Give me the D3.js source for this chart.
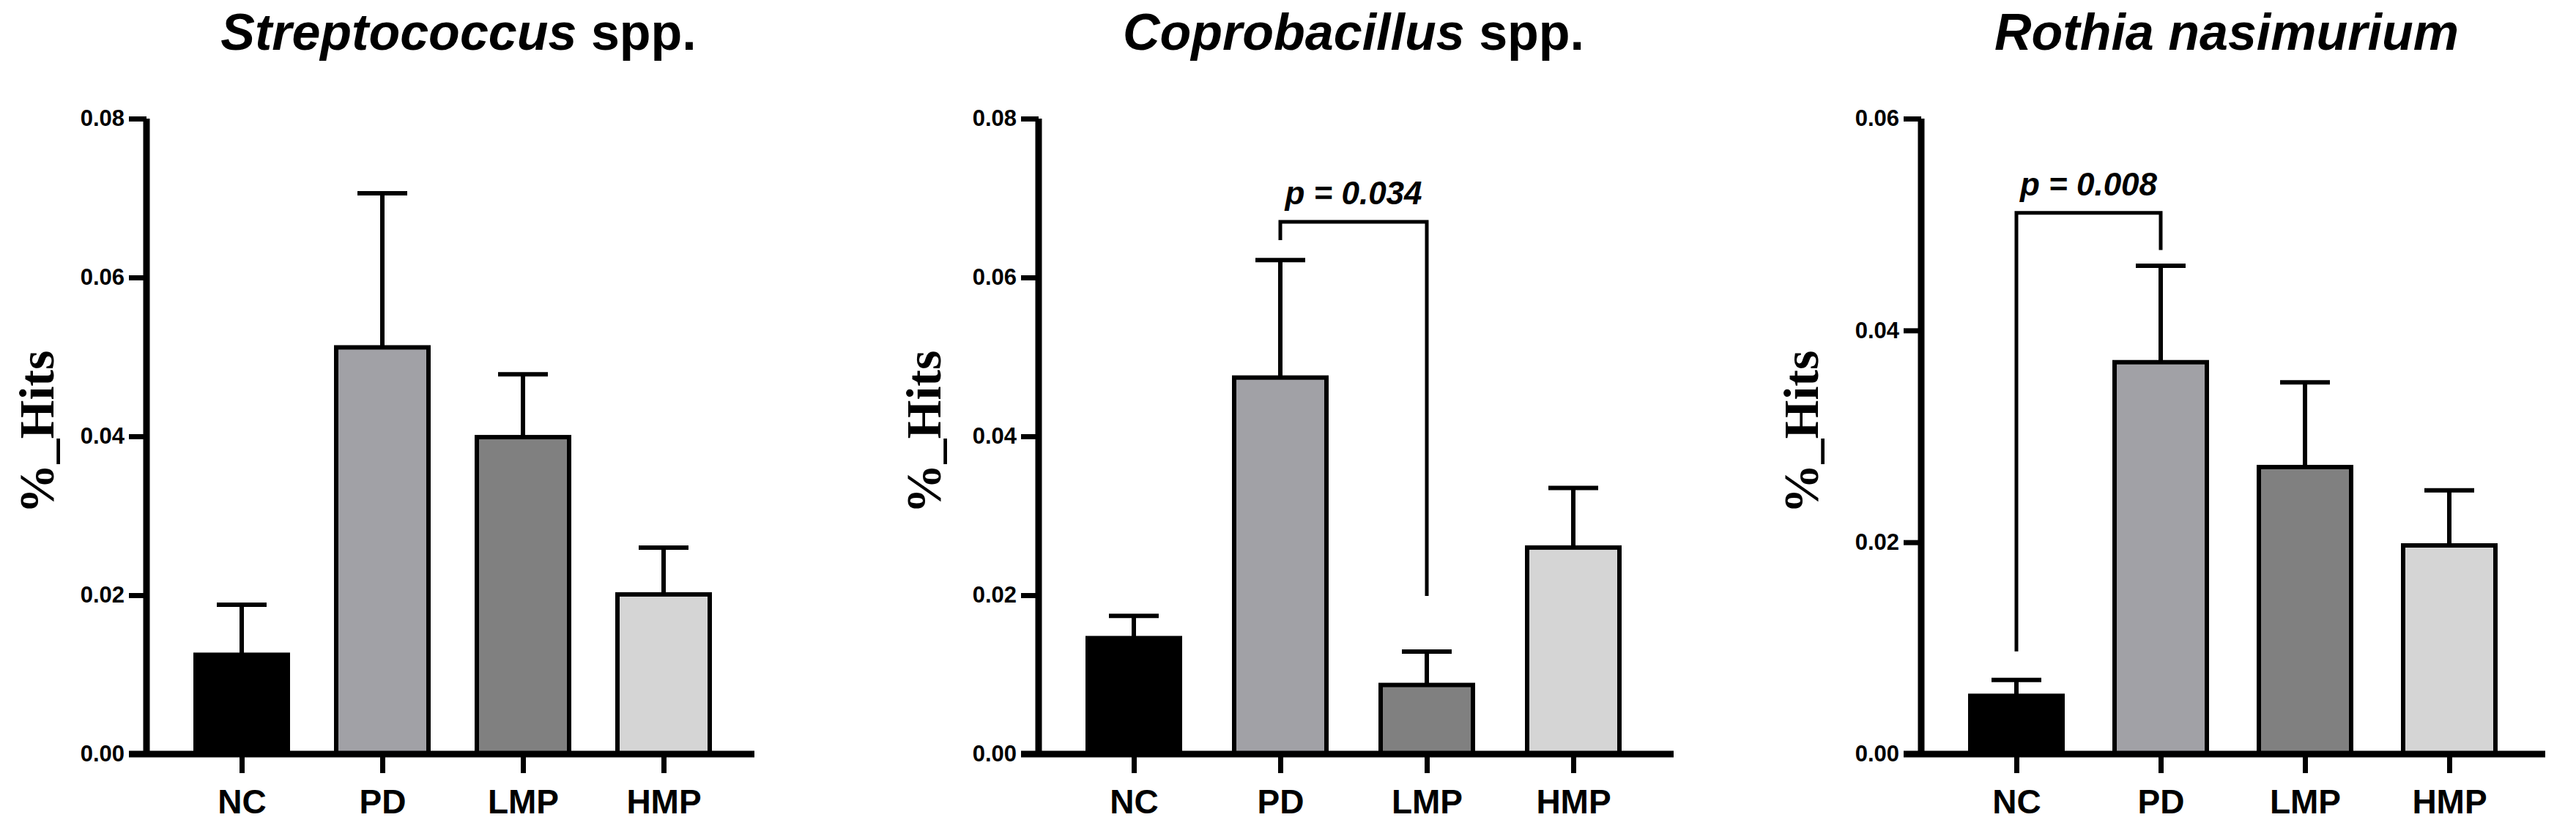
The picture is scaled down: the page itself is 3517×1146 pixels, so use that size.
<!DOCTYPE html>
<html>
<head>
<meta charset="utf-8">
<script src="https://cdnjs.cloudflare.com/ajax/libs/d3/7.8.5/d3.min.js"></script>
<style>
  body { margin: 0; background: #fff; }
  text { font-family: "Liberation Sans", Arial, sans-serif; }
</style>
</head>
<body>
<svg id="chart" width="3517" height="1146"></svg>
<script>
(function() {
	'use strict';

	// data
	var groups = ['NC', 'PD', 'LMP', 'HMP'];
	var colors = ['#000000', '#a1a1a6', '#808080', '#d5d5d5'];

	var strepMean = [0.0125, 0.0512, 0.0399, 0.0201];
	var strepErr  = [0.0188, 0.0706, 0.0478, 0.0260];

	var coproMean = [0.0146, 0.0474, 0.0087, 0.0260];
	var coproErr  = [0.0174, 0.0622, 0.0129, 0.0335];

	var rothMean = [0.0055, 0.0370, 0.0271, 0.0197];
	var rothErr  = [0.0070, 0.0461, 0.0351, 0.0249];

	var ticks008 = [0, 0.02, 0.04, 0.06, 0.08];
	var ticks006 = [0, 0.02, 0.04, 0.06];

	// layout per panel
	var panels = [
		{ title: ['Streptococcus', ' spp.'], mean: strepMean, err: strepErr, max: 0.08, ticks: ticks008,
		  axisX: 200, step: 192, end: 1030, titleX: 626, labelX: 51, sig: null },
		{ title: ['Coprobacillus', ' spp.'], mean: coproMean, err: coproErr, max: 0.08, ticks: ticks008,
		  axisX: 1418, step: 200, end: 2285, titleX: 1848, labelX: 1262,
		  sig: { a: 1, b: 2, top: 0.0670, endA: 0.0647, endB: 0.0199, text: 'p = 0.034' } },
		{ title: ['Rothia nasimurium', ''], mean: rothMean, err: rothErr, max: 0.06, ticks: ticks006,
		  axisX: 2623, step: 197, end: 3475, titleX: 3040, labelX: 2460,
		  sig: { a: 0, b: 1, top: 0.0511, endA: 0.0097, endB: 0.0476, text: 'p = 0.008' } }
	];

	var svg = d3.select('#chart');
	var yTop = 162, yBottom = 1030;

	panels.forEach(function(p) {
		var g = svg.append('g');
		var y = d3.scaleLinear().domain([0, p.max]).range([yBottom, yTop]);
		var x = d3.scalePoint().domain(groups)
			.range([p.axisX + 130, p.axisX + 130 + 3 * p.step]);
		var bw = 126;

		// title
		var t = g.append('text').attr('x', p.titleX).attr('y', 68)
			.attr('text-anchor', 'middle')
			.style('font-size', '70px').style('font-weight', 'bold');
		t.append('tspan').style('font-style', 'italic').text(p.title[0]);
		if (p.title[1]) t.append('tspan').text(p.title[1]);

		// y label
		g.append('text')
			.attr('transform', 'translate(' + (p.labelX + 22) + ',' + 590 + ') rotate(-90)')
			.attr('text-anchor', 'middle')
			.style('font-family', '"Liberation Serif", "Times New Roman", serif')
			.style('font-size', '68px').style('font-weight', 'bold')
			.text('%_Hits');

		// error bars
		groups.forEach(function(k, i) {
			var cx = x(k);
			g.append('line').attr('x1', cx).attr('x2', cx)
				.attr('y1', y(p.mean[i])).attr('y2', y(p.err[i]))
				.attr('stroke', '#000').attr('stroke-width', 6);
			g.append('line').attr('x1', cx - 34).attr('x2', cx + 34)
				.attr('y1', y(p.err[i])).attr('y2', y(p.err[i]))
				.attr('stroke', '#000').attr('stroke-width', 6);
		});

		// bars
		g.selectAll('rect.bar').data(groups).enter().append('rect')
			.attr('class', 'bar')
			.attr('x', function(d) { return x(d) - bw / 2; })
			.attr('y', function(d, i) { return y(p.mean[i]); })
			.attr('width', bw)
			.attr('height', function(d, i) { return yBottom - y(p.mean[i]); })
			.attr('fill', function(d, i) { return colors[i]; })
			.attr('stroke', '#000').attr('stroke-width', 6);

		// y axis
		var yAxis = g.append('g').attr('transform', 'translate(' + p.axisX + ',0)')
			.call(d3.axisLeft(y).tickValues(p.ticks).tickFormat(d3.format('.2f'))
				.tickSize(24).tickPadding(6));
		yAxis.select('.domain').attr('stroke-width', 9)
			.attr('d', 'M0,' + yTop + 'V' + yBottom);
		yAxis.selectAll('.tick line').attr('stroke-width', 7);
		yAxis.selectAll('.tick text').style('font-size', '31px').style('font-weight', 'bold')
			.style('font-family', '"Liberation Sans Narrow", "Liberation Sans", Arial, sans-serif');

		// x axis
		var xAxis = g.append('g').attr('transform', 'translate(0,' + yBottom + ')')
			.call(d3.axisBottom(x).tickSize(26).tickPadding(22));
		xAxis.select('.domain').attr('stroke-width', 9)
			.attr('d', 'M' + (p.axisX - 24) + ',0H' + p.end);
		xAxis.selectAll('.tick line').attr('stroke-width', 7);
		xAxis.selectAll('.tick text').style('font-size', '46px').style('font-weight', 'bold');

		// significance bracket
		if (p.sig) {
			var xa = x(groups[p.sig.a]), xb = x(groups[p.sig.b]);
			g.append('path')
				.attr('d', 'M' + xa + ',' + y(p.sig.endA) + 'V' + y(p.sig.top) +
					'H' + xb + 'V' + y(p.sig.endB))
				.attr('fill', 'none').attr('stroke', '#000').attr('stroke-width', 5);
			g.append('text').attr('x', (xa + xb) / 2).attr('y', y(p.sig.top) - 24)
				.attr('text-anchor', 'middle')
				.style('font-size', '44px').style('font-weight', 'bold').style('font-style', 'italic')
				.text(p.sig.text);
		}
	});
})();
</script>
</body>
</html>
